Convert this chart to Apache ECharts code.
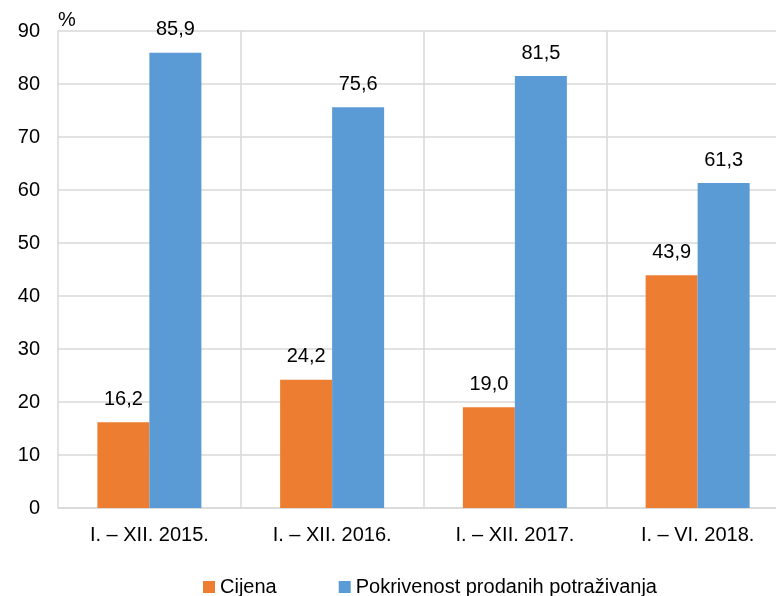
<!DOCTYPE html>
<html>
<head>
<meta charset="utf-8">
<script src="https://cdn.jsdelivr.net/npm/echarts@6/dist/echarts.min.js"></script>
<style>
  html, body { margin: 0; padding: 0; background: #fff; }
  #chart { width: 776px; height: 596px; }
</style>
</head>
<body>
<div id="chart"></div>
<script>
// podaci
var categories = ['I. – XII. 2015.', 'I. – XII. 2016.', 'I. – XII. 2017.', 'I. – VI. 2018.'];
var cijena = [16.2, 24.2, 19.0, 43.9];
var pokrivenost = [85.9, 75.6, 81.5, 61.3];
var seriesNames = ['Cijena', 'Pokrivenost prodanih potraživanja'];

var font = 'Liberation Sans, Arial, sans-serif';

function fmt(p) {
  return p.value.toFixed(1).replace('.', ',');
}

var myChart = echarts.init(document.getElementById('chart'));
myChart.setOption({
  animation: false,
  textStyle: { fontFamily: font },
  // plot area runs past the right edge, as in the original
  grid: { left: 58, width: 731, top: 31, bottom: 88, outerBoundsMode: 'none', containLabel: false },
  legend: {
    left: 198,
    top: 572,
    itemWidth: 12,
    itemHeight: 12,
    itemGap: 62,
    icon: 'rect',
    textStyle: { fontSize: 20, color: '#000', fontFamily: font, padding: [0, 0, 0, 0] },
    data: seriesNames
  },
  xAxis: {
    type: 'category',
    data: categories,
    axisLine: { lineStyle: { color: '#D9D9D9', width: 1.5 } },
    axisTick: { show: false },
    axisLabel: { color: '#000', fontSize: 20, margin: 17, fontFamily: font },
    splitLine: { show: true, lineStyle: { color: '#D9D9D9', width: 1.5 } }
  },
  yAxis: {
    type: 'value',
    min: 0,
    max: 90,
    interval: 10,
    name: '%',
    nameLocation: 'end',
    nameGap: 1,
    nameTextStyle: { color: '#000', fontSize: 20, align: 'left', fontFamily: font },
    axisLine: { show: false },
    axisTick: { show: false },
    axisLabel: { color: '#000', fontSize: 20, margin: 18, fontFamily: font },
    splitLine: { lineStyle: { color: '#D9D9D9', width: 1.5 } }
  },
  series: [
    {
      name: seriesNames[0],
      type: 'bar',
      data: cijena,
      barWidth: 52,
      barGap: '0%',
      itemStyle: { color: '#ED7D31' },
      label: { show: true, position: 'top', distance: 13, color: '#000', fontSize: 20, formatter: fmt, fontFamily: font }
    },
    {
      name: seriesNames[1],
      type: 'bar',
      data: pokrivenost,
      barWidth: 52,
      barGap: '0%',
      itemStyle: { color: '#5B9BD5' },
      label: { show: true, position: 'top', distance: 13, color: '#000', fontSize: 20, formatter: fmt, fontFamily: font }
    }
  ]
});
</script>
</body>
</html>
